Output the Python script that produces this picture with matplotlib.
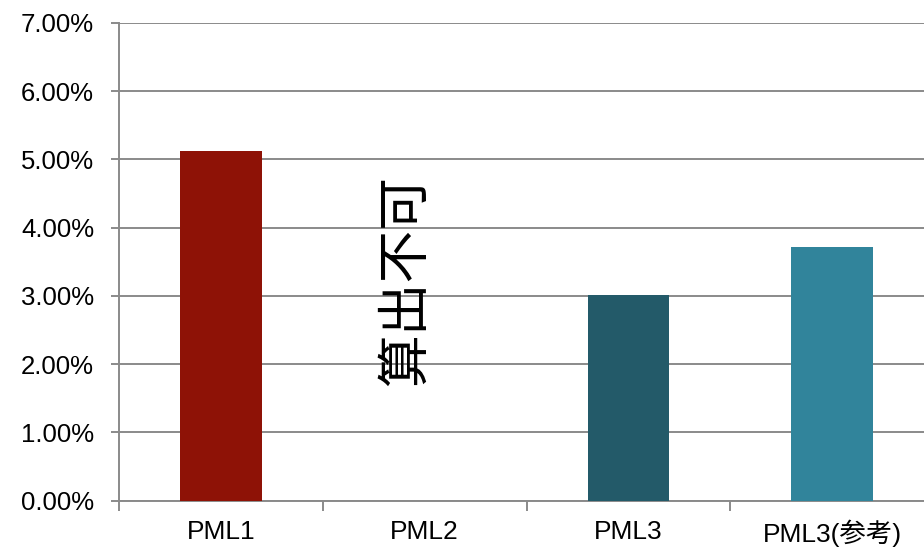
import matplotlib
matplotlib.use("Agg")
import matplotlib.pyplot as plt
from matplotlib.ticker import FixedLocator, PercentFormatter

categories = ["PML1", "PML2", "PML3", "PML3(参考)"]
values = [5.12, None, 3.01, 3.72]  # percent
colors = ["#8E1206", "#235A69", "#31849B"]
note_text = "算出不可"
y_ticks = [0, 1, 2, 3, 4, 5, 6, 7]

plt.rcParams['font.family'] = ['Liberation Sans', 'Noto Sans CJK JP', 'DejaVu Sans']

W, H = 924, 549
fig = plt.figure(figsize=(W / 100, H / 100), dpi=100)
left_px, right_px, bottom_px, top_px = 119, 934, 500.5, 23
ax = fig.add_axes([left_px / W, (H - bottom_px) / H,
                   (right_px - left_px) / W, (bottom_px - top_px) / H])

xs = [i for i, v in enumerate(values) if v is not None]
vals = [v for v in values if v is not None]
ax.bar(xs, vals, width=0.40, color=colors, zorder=3)

ax.set_xlim(-0.5, len(categories) - 0.5)
ax.set_ylim(0, 7)
ax.yaxis.set_major_locator(FixedLocator(y_ticks))
ax.yaxis.set_major_formatter(PercentFormatter(decimals=2))
ax.grid(axis='y', color='#8a8a8a', linewidth=1.4, zorder=0)
ax.set_axisbelow(True)

# category boundary ticks and centered labels
ax.set_xticks([i - 0.5 for i in range(len(categories) + 1)])
ax.set_xticklabels([])
ax.set_xticks(range(len(categories)), minor=True)
ax.set_xticklabels(categories, minor=True, fontsize=19)
ax.tick_params(axis='x', which='major', length=7, width=1.4, color='#8a8a8a')
ax.tick_params(axis='x', which='minor', length=0, pad=14)
ax.tick_params(axis='y', length=6, width=1.4, color='#8a8a8a', labelsize=18.5, pad=12)

for s in ['top', 'right']:
    ax.spines[s].set_visible(False)
for s in ['left', 'bottom']:
    ax.spines[s].set_color('#8a8a8a')
    ax.spines[s].set_linewidth(1.4)

ax.text(0.905, 3.22, note_text, rotation=90, ha='center', va='center',
        fontsize=38, family=['Noto Sans CJK JP'], color='black', zorder=4)

fig.savefig("out.png", dpi=100)
